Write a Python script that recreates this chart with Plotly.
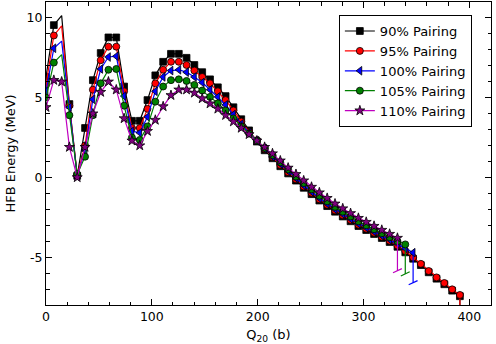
import plotly.graph_objects as go

# ---------------- data ----------------
Q = [0.0, 7.4, 14.8, 22.1, 29.5, 36.9, 44.3, 51.7, 59.0, 66.4, 73.8, 81.2, 88.6, 95.9,
     103.3, 110.7, 118.1, 125.5, 132.8, 140.2, 147.6, 155.0, 162.4, 169.7, 177.1, 184.5,
     191.9, 199.3, 206.6, 214.0, 221.4, 228.8, 236.2, 243.5, 250.9, 258.3, 265.7, 273.1,
     280.4, 287.8, 295.2, 302.6, 310.0, 317.3, 324.7, 332.1, 339.5, 346.9, 354.2, 361.6,
     369.0, 376.4, 383.8, 391.1]

E_90 = [6.3, 9.55, 10.15, 4.6, 0.1, 3.1, 6.1, 7.8, 8.78, 8.78, 5.7, 3.55, 3.55, 4.85,
        6.4, 7.25, 7.75, 7.75, 7.5, 7.05, 6.6, 6.15, 5.65, 5.1, 4.4, 3.65, 2.95, 2.25,
        1.7, 1.2, 0.7, 0.25, -0.2, -0.65, -1.05, -1.45, -1.8, -2.15, -2.45, -2.75, -3.05,
        -3.3, -3.55, -3.8, -4.05, -4.35, -4.7, -5.1, -5.5, -5.95, -6.35, -6.7, -7.1, -7.45]

E_95 = [5.8, 8.9, 9.5, 4.5, 0.15, 2.0, 5.5, 7.35, 8.2, 8.2, 5.4, 3.1, 3.1, 4.3, 5.9,
        6.75, 7.25, 7.25, 7.05, 6.7, 6.3, 5.9, 5.4, 4.85, 4.2, 3.5, 2.85, 2.33, 1.78,
        1.28, 0.78, 0.33, -0.12, -0.57, -0.97, -1.37, -1.72, -2.07, -2.37, -2.67, -2.97,
        -3.22, -3.47, -3.72, -3.97, -4.27, -4.62, -5.02, -5.42, -5.87, -6.27, -6.62,
        -7.02, -7.37]

E_100 = [5.4, 8.1, 8.55, 4.4, 0.1, 1.7, 4.9, 6.8, 7.55, 7.6, 5.1, 2.9, 2.8, 3.8, 5.4,
         6.3, 6.7, 6.75, 6.6, 6.3, 5.95, 5.5, 5.05, 4.55, 3.95, 3.35, 2.8, 2.3, 1.8, 1.3,
         0.85, 0.4, -0.05, -0.5, -0.9, -1.3, -1.65, -2.0, -2.3, -2.6, -2.9, -3.15, -3.4,
         -3.65, -3.9, -4.15, -4.45, -4.72]

E_105 = [5.0, 7.2, 7.7, 3.9, 0.2, 1.3, 3.9, 5.9, 6.75, 6.8, 4.5, 2.5, 2.35, 3.2, 4.75,
         5.7, 6.1, 6.15, 6.05, 5.8, 5.45, 5.05, 4.65, 4.2, 3.7, 3.2, 2.75, 2.3, 1.85, 1.4,
         0.95, 0.5, 0.05, -0.35, -0.75, -1.15, -1.5, -1.85, -2.15, -2.45, -2.75, -3.0,
         -3.25, -3.5, -3.75, -4.0, -4.2]

E_110 = [4.4, 6.1, 6.0, 1.9, 0.0, 1.9, 4.0, 5.35, 6.0, 5.5, 3.7, 2.3, 2.0, 2.9, 3.6,
         4.45, 5.15, 5.5, 5.5, 5.3, 4.95, 4.63, 4.3, 3.9, 3.5, 3.1, 2.7, 2.3, 1.9, 1.5,
         1.05, 0.6, 0.2, -0.2, -0.6, -0.95, -1.3, -1.65, -1.95, -2.25, -2.55, -2.8, -3.05,
         -3.3, -3.55, -3.8]

# final (scission) energies reached by the vertical drop at the end of each curve
END_E = [-9.0, -9.0, -6.6, -6.05, -5.85]

NAMES = ["90% Pairing", "95% Pairing", "100% Pairing", "105% Pairing", "110% Pairing"]
SERIES_E = [E_90, E_95, E_100, E_105, E_110]
# indices of points drawn without a marker
NO_MARKER = [[2], [2], [2], [2], []]

X_TICKS = [0, 100, 200, 300, 400]
X_TICK_LABELS = ["0", "100", "200", "300", "400"]
Y_TICKS = [-5, 0, 5, 10]
Y_TICK_LABELS = ["-5", "0", "5", "10"]

# ---------------- styles ----------------
STYLES = [
    dict(line="#000000", fill="#000000", symbol="square", size=6.8),
    dict(line="#ff0000", fill="#ff0000", symbol="circle", size=7),
    dict(line="#0000ff", fill="#0000ff", symbol="triangle-left", size=7.5),
    dict(line="#008000", fill="#008000", symbol="circle", size=7),
    dict(line="#bf00bf", fill="#800080", symbol="star", size=7.5),
]

fig = go.Figure()
for name, E, end, hide, st in zip(NAMES, SERIES_E, END_E, NO_MARKER, STYLES):
    n = len(E)
    xs = Q[:n] + [Q[n - 1]]
    ys = E + [end]
    fig.add_trace(go.Scatter(x=xs, y=ys, mode="lines",
                             line=dict(color=st["line"], width=1.2),
                             showlegend=False, hoverinfo="skip"))
    mx = [Q[i] for i in range(n) if i not in hide]
    my = [E[i] for i in range(n) if i not in hide]
    fig.add_trace(go.Scatter(x=mx, y=my, mode="markers",
                             marker=dict(symbol=st["symbol"], size=st["size"], color=st["fill"],
                                         line=dict(color="black", width=0.8)),
                             showlegend=False))
    fig.add_trace(go.Scatter(x=[Q[n - 1]], y=[end], mode="markers",
                             marker=dict(symbol="line-ew", size=7, angle=-25,
                                         line=dict(color=st["line"], width=1.2)),
                             showlegend=False, hoverinfo="skip"))
    fig.add_trace(go.Scatter(x=[None], y=[None], mode="lines+markers", name=name,
                             line=dict(color=st["line"], width=1.2),
                             marker=dict(symbol=st["symbol"], size=st["size"], color=st["fill"],
                                         line=dict(color="black", width=0.8))))

axis_common = dict(
    ticks="inside", ticklen=6, tickwidth=1, tickcolor="black",
    showline=True, linecolor="black", linewidth=1, mirror="allticks",
    showgrid=False, zeroline=False, automargin=False,
    tickfont=dict(size=12.5, color="black"),
)

fig.update_xaxes(range=[0, 420.5], tickmode="array", tickvals=X_TICKS, ticktext=X_TICK_LABELS,
                 minor=dict(tickmode="linear", tick0=0, dtick=20, ticks="inside", ticklen=3.5,
                            tickwidth=1, tickcolor="black", showgrid=False),
                 title=dict(text="Q<sub>20</sub> (b)", standoff=7, font=dict(size=13)),
                 **axis_common)
fig.update_yaxes(range=[-8, 11], tickmode="array", tickvals=Y_TICKS, ticktext=Y_TICK_LABELS,
                 minor=dict(tickmode="linear", tick0=0, dtick=1, ticks="inside", ticklen=3.5,
                            tickwidth=1, tickcolor="black", showgrid=False),
                 title=dict(text="HFB Energy (MeV)", standoff=8, font=dict(size=13)),
                 **axis_common)

fig.update_layout(
    width=496, height=344,
    margin=dict(l=46, r=5, t=2, b=39),
    paper_bgcolor="white", plot_bgcolor="white",
    font=dict(family="DejaVu Sans", size=13, color="black"),
    showlegend=True,
    legend=dict(x=0.957, y=0.957, xanchor="right", yanchor="top", bgcolor="white",
                bordercolor="black", borderwidth=1, font=dict(size=13)),
)

fig.write_html("out.html")
